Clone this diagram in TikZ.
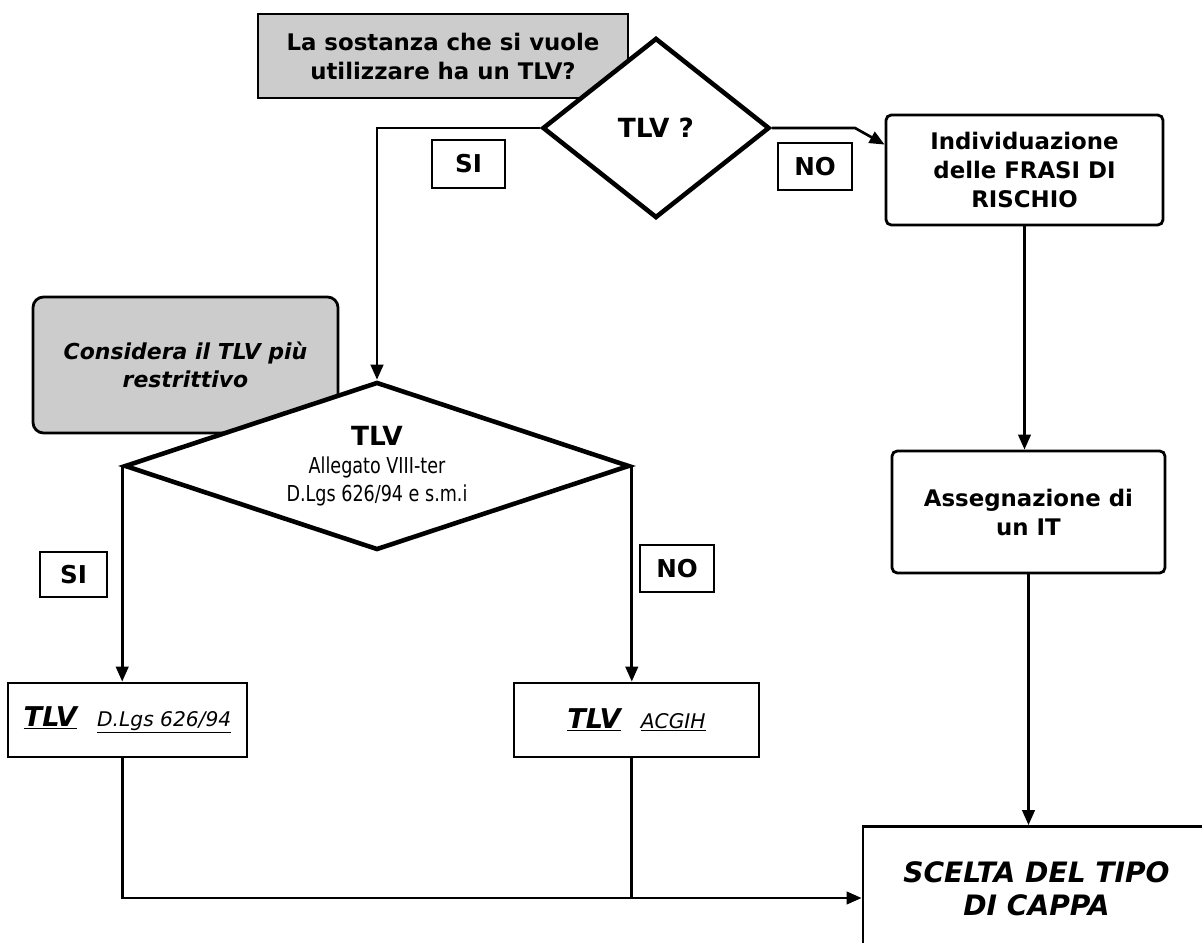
\documentclass[tikz,border=0pt]{standalone}
\usepackage{fontspec}
\setmainfont{DejaVu Sans}
\newfontfamily\narrowfont[FakeStretch=0.8]{DejaVu Sans}
\usetikzlibrary{shapes.geometric, arrows.meta, positioning}
\definecolor{shade}{HTML}{CCCCCC}

\begin{document}
\begin{tikzpicture}[
  %--- shared node styles -----------------------------------------
  box/.style={
    rectangle, draw=black, line width=1.6pt, fill=white,
    align=center, inner sep=4pt,
    font=\fontsize{13}{16.5}\selectfont\bfseries
  },
  rbox/.style={box, rounded corners=3pt},
  notebox/.style={box, fill=shade},
  decision/.style={
    diamond, draw=black, line width=2.6pt, fill=white,
    inner sep=0pt, align=center
  },
  answer/.style={
    rectangle, draw=black, line width=1.3pt, fill=white,
    inner sep=0pt, font=\fontsize{14}{16}\selectfont\bfseries
  },
  arr/.style={-{Triangle[length=0.3cm,width=0.25cm]}, line width=1.5pt},
  link/.style={line width=1.5pt},
]
\useasboundingbox (0,0) rectangle (24.04,-18.86);
\clip (0,0) rectangle (24.04,-18.86);

%% --- ROW 0: question, first decision, risk phrases -------------
\node[notebox, minimum width=7.4cm, minimum height=1.68cm] (ask)
  at (8.86,-1.12) {La sostanza che si vuole\\utilizzare ha un TLV?};
\node[decision, aspect=1.26, minimum width=4.54cm, minimum height=3.6cm,
  font=\fontsize{15}{18}\selectfont\bfseries] (tlvq)
  at (13.12,-2.56) {TLV ?};
\node[rbox, minimum width=5.54cm, minimum height=2.2cm] (frasi)
  at (20.49,-3.4) {Individuazione\\delle FRASI DI\\RISCHIO};

\node[answer, minimum width=1.46cm, minimum height=0.96cm] (si1)
  at (9.37,-3.28) {SI};
\node[answer, minimum width=1.48cm, minimum height=0.94cm] (no1)
  at (16.3,-3.33) {NO};
\coordinate (kink) at (17.1,-2.56);

%% --- ROW 1: restrictive note, law decision, IT -----------------
\node[notebox, rounded corners=6pt, minimum width=6.1cm,
  minimum height=2.72cm,
  font=\fontsize{12.5}{16}\selectfont\bfseries\itshape] (restr)
  at (3.71,-7.3) {Considera il TLV più\\restrittivo};
\node[decision, aspect=3, minimum width=10.1cm, minimum height=3.36cm,
  font=\narrowfont\fontsize{12.5}{16}\selectfont] (tlvlaw)
  at (7.54,-9.32)
  {{\normalfont\fontsize{15}{18}\selectfont\bfseries TLV}\\
   Allegato VIII-ter\\D.Lgs 626/94 e s.m.i};
\node[rbox, minimum width=5.46cm, minimum height=2.44cm] (it)
  at (20.57,-10.24) {Assegnazione di\\un IT};

\node[answer, minimum width=1.34cm, minimum height=0.9cm] (si2)
  at (1.47,-11.49) {SI};
\node[answer, minimum width=1.48cm, minimum height=0.94cm] (no2)
  at (13.54,-11.37) {NO};

%% --- ROW 2: TLV sources, hood choice ---------------------------
\node[box, minimum width=4.78cm, minimum height=1.48cm,
  font=\fontsize{11.5}{14}\selectfont] (law) at (2.55,-14.4)
  {\underline{\fontsize{15.5}{17}\selectfont\bfseries\itshape TLV}\quad
   \underline{\itshape D.Lgs 626/94}};
\node[box, minimum width=4.9cm, minimum height=1.48cm,
  font=\fontsize{11.5}{14}\selectfont] (acgih) at (12.73,-14.4)
  {\underline{\fontsize{15.5}{17}\selectfont\bfseries\itshape TLV}\quad
   \underline{\itshape ACGIH}};
\node[box, minimum width=6.94cm, minimum height=2.5cm,
  font=\fontsize{16}{19}\selectfont\bfseries\itshape] (cappa)
  at (20.73,-17.78) {SCELTA DEL TIPO\\DI CAPPA};
\coordinate (merge) at (12.54,-17.96);

%% --- arrows -----------------------------------------------------
% TLV ? -> SI -> law decision
\draw[arr] (tlvq.west) -| (tlvlaw.north);
% TLV ? -> NO -> risk phrases
\draw[arr] (tlvq.east) -- (kink) -- ([yshift=-0.62cm]frasi.north west);
% risk phrases -> IT -> hood
\draw[arr] (frasi.south) -- (frasi.south |- it.north);
\draw[arr] (it.south) -- (it.south |- cappa.north);
% law decision -> both TLV sources
\draw[arr] (tlvlaw.west) -- (tlvlaw.west |- law.north);
\draw[arr] (tlvlaw.east) -- (tlvlaw.east |- acgih.north);
% TLV sources -> hood
\draw[arr] (law.south -| tlvlaw.west) |- (merge -| cappa.west);
\draw[link] (acgih.south -| tlvlaw.east) -- (tlvlaw.east |- merge);

\end{tikzpicture}
\end{document}
